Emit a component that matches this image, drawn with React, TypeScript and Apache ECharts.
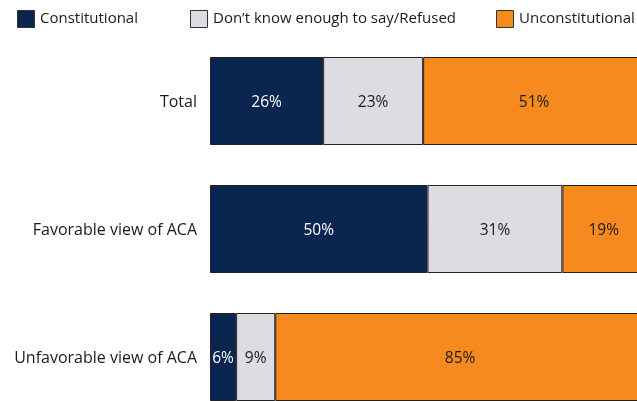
import React, { useEffect, useRef } from "react";
import * as echarts from "echarts";

const categories = ["Total", "Favorable view of ACA", "Unfavorable view of ACA"];
const seriesNames = ["Constitutional", "Don’t know enough to say/Refused", "Unconstitutional"];
const constitutional = [26, 50, 6];
const dontKnow = [23, 31, 9];
const unconstitutional = [51, 19, 85];
const colors = ["#0b2551", "#dcdce2", "#f78a1e"];
const labelColors = ["#ffffff", "#1a1a1a", "#1a1a1a"];

const FONT = "'Open Sans', Lato, sans-serif";
const FS = 16;

export default function App() {
  const ref = useRef<HTMLDivElement>(null);
  useEffect(() => {
    if (!ref.current) return;
    const chart = echarts.init(ref.current, null, { renderer: "svg" });
    const data = [constitutional, dontKnow, unconstitutional];
    const legendX = [17, 190, 496];
    const graphics: any[] = [];
    seriesNames.forEach((n, i) => {
      graphics.push({
        type: "rect",
        left: legendX[i],
        top: 10,
        shape: { width: 17, height: 17 },
        style: { fill: colors[i], stroke: "#333", lineWidth: 1 },
      });
      graphics.push({
        type: "text",
        left: legendX[i] + 23,
        top: 9,
        style: { text: n, fill: "#1a1a1a", font: `15px ${FONT}` },
      });
    });
    chart.setOption({
      animation: false,
      textStyle: { fontFamily: FONT },
      grid: { left: 210, top: 37, width: 435, height: 384, containLabel: false, outerBoundsMode: "none" },
      xAxis: { type: "value", min: 0, max: 100, show: false },
      yAxis: {
        type: "category",
        data: categories,
        inverse: true,
        axisLine: { show: false },
        axisTick: { show: false },
        axisLabel: { color: "#1a1a1a", fontSize: FS, fontFamily: FONT, margin: 13 },
      },
      graphic: graphics,
      series: seriesNames.map((n, i) => ({
        name: n,
        type: "bar",
        stack: "all",
        barWidth: 88,
        data: data[i],
        itemStyle: { color: colors[i], borderColor: "#222", borderWidth: 1 },
        label: {
          show: true,
          position: "inside",
          formatter: "{c}%",
          color: labelColors[i],
          fontSize: 15.5,
          fontFamily: FONT,
        },
      })),
    });
    return () => chart.dispose();
  }, []);
  return <div ref={ref} style={{ width: 637, height: 401, position: "fixed", left: 0, top: 0 }} />;
}
